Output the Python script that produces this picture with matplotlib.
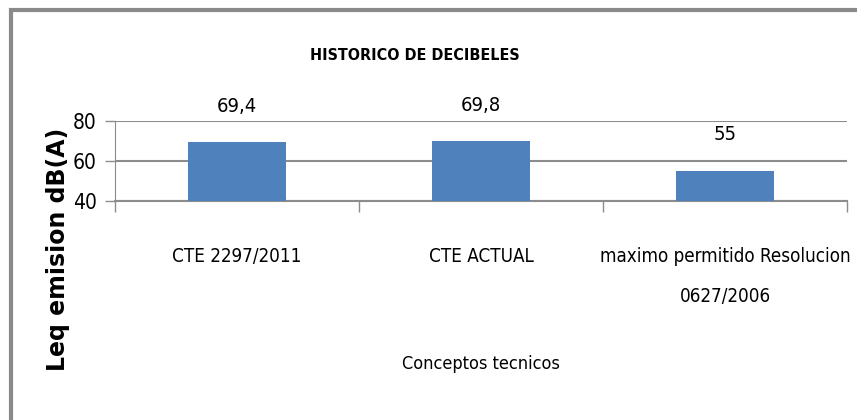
import matplotlib
matplotlib.use('Agg')
import matplotlib.pyplot as plt
from matplotlib.patches import Rectangle
import numpy as np

categories = ["CTE 2297/2011", "CTE ACTUAL", "maximo permitido Resolucion\n0627/2006"]
values = [69.4, 69.8, 55]
value_labels = ["69,4", "69,8", "55"]
yticks = [40, 60, 80]

NARROW = dict(family=["DejaVu Sans", "Liberation Sans"], fontstretch="condensed")
GRID = "#8C8C8C"

fig = plt.figure(figsize=(8.57, 4.2), dpi=100)
fig.patch.set_facecolor("white")

# gray frame (left and top edges visible)
fig.add_artist(Rectangle((11 / 857, -0.1), 2.0, 1.0 - 10 / 420 + 0.1,
                         transform=fig.transFigure, fill=False,
                         edgecolor="#8A8A8A", linewidth=3))

ax = fig.add_axes([115 / 857, 1 - 201 / 420, (847 - 115) / 857, 80 / 420])
x = np.arange(len(categories))
ax.bar(x, values, width=0.4, color="#4F81BD", zorder=3)
ax.set_xlim(-0.5, len(categories) - 0.5)
ax.set_ylim(40, 80)
ax.set_yticks(yticks)
ax.set_yticklabels([str(v) for v in yticks], fontsize=15, **NARROW)
ax.grid(axis="y", color=GRID, linewidth=1.5, zorder=0)

ax.set_xticks(x)
ax.set_xticklabels(categories, fontsize=13.5, linespacing=2.4, **NARROW)
ax.set_xticks(np.arange(len(categories) + 1) - 0.5, minor=True)
ax.tick_params(axis="x", which="major", length=0, pad=33)
ax.tick_params(axis="x", which="minor", length=8, color=GRID, width=1)
ax.tick_params(axis="y", length=7, color=GRID, width=1, pad=6)

for s in ["top", "right"]:
    ax.spines[s].set_visible(False)
ax.spines["left"].set_color(GRID)
ax.spines["bottom"].set_color(GRID)
ax.spines["bottom"].set_linewidth(1.5)

for xi, v, lab in zip(x, values, value_labels):
    ax.annotate(lab, (xi, v), xytext=(0, 26), textcoords="offset points",
                ha="center", va="center", fontsize=14.5, annotation_clip=False,
                **NARROW)

fig.text(415 / 857, 1 - 55 / 420, "HISTORICO DE DECIBELES", ha="center",
         va="center", fontsize=11.5, fontweight="bold", **NARROW)
fig.text(481 / 857, 1 - 364 / 420, "Conceptos tecnicos", ha="center",
         va="center", fontsize=13, **NARROW)
fig.text(58 / 857, 1 - 249 / 420, "Leq emision dB(A)", ha="center",
         va="center", rotation=90, fontsize=17, fontweight="bold",
         family="DejaVu Sans")

fig.savefig("out.png", dpi=100)
